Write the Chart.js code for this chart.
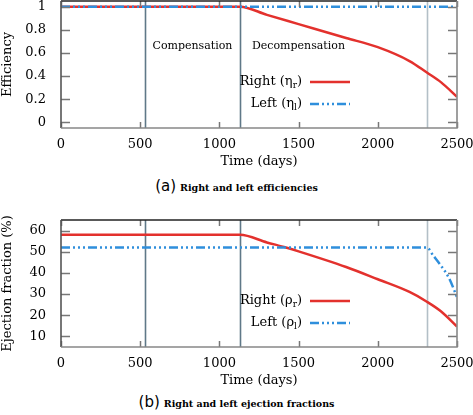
<!DOCTYPE html>
<html>
<head>
<meta charset="utf-8">
<script src="https://cdn.jsdelivr.net/npm/chart.js@4"></script>
<style>
  body { margin: 0; background: #fff; width: 473px; height: 415px; position: relative; overflow: hidden; }
  .box { position: absolute; left: 0; width: 473px; }
  .cap { position: absolute; left: 0; width: 473px; text-align: center; color: #000; white-space: nowrap; }
  .cap .lbl { font-family: "DejaVu Sans", sans-serif; font-size: 15px; }
  .cap .txt { font-family: "DejaVu Serif", serif; font-weight: bold; font-size: 9.5px; }
</style>
</head>
<body>
<div class="box" style="top:0;height:170px"><canvas id="effChart"></canvas></div>
<div class="cap" style="top:177px"><span class="lbl">(a)</span> <span class="txt">Right and left efficiencies</span></div>
<div class="box" style="top:209px;height:180px"><canvas id="efChart"></canvas></div>
<div class="cap" style="top:393px"><span class="lbl">(b)</span> <span class="txt">Right and left ejection fractions</span></div>
<script>
// phase boundaries (days)
const phaseDays = [530, 1130, 2310];
const xTicks = [0, 500, 1000, 1500, 2000, 2500];

// (a) efficiencies
const rightEffDays = [0, 1130, 1300, 1500, 1800, 2000, 2200, 2310, 2400, 2500];
const rightEff = [1, 1, 0.93, 0.85, 0.73, 0.65, 0.53, 0.43, 0.345, 0.22];
const leftEffDays = [0, 2500];
const leftEff = [1, 1];
const effTicks = [0, 0.2, 0.4, 0.6, 0.8, 1];

// (b) ejection fractions
const rightEFDays = [0, 1130, 1300, 1420, 1500, 1800, 2000, 2200, 2310, 2400, 2500];
const rightEF = [58, 58, 54.4, 52, 50.2, 42.8, 37, 31, 26.4, 21.8, 14.7];
const leftEFDays = [0, 2310, 2350, 2400, 2450, 2500];
const leftEF = [52, 52, 48.2, 43.3, 37.5, 28.5];
const efTicks = [10, 20, 30, 40, 50, 60];

const RED = '#e3312d';
const BLUE = '#2f8fdc';
const SERIF = '"DejaVu Serif", serif';

function pts(xs, ys) {
  return xs.map((x, i) => ({x: x, y: ys[i]}));
}

// frame, inward ticks, phase lines, labels and legend
const decorPlugin = {
  id: 'decor',
  beforeDatasetsDraw(chart, args, opts) {
    const ctx = chart.ctx, a = chart.chartArea;
    const xs = chart.scales.x;
    ctx.save();
    phaseDays.forEach((d, i) => {
      const px = Math.round(xs.getPixelForValue(d)) + 0.5;
      ctx.strokeStyle = i < 2 ? '#5f7888' : '#b3bfc7';
      ctx.lineWidth = 1.6;
      ctx.beginPath(); ctx.moveTo(px, a.top); ctx.lineTo(px, a.bottom); ctx.stroke();
    });
    if (opts.phaseLabels) {
      ctx.fillStyle = '#000';
      ctx.font = '11px ' + SERIF;
      ctx.textBaseline = 'middle';
      const y = a.top + 45;
      ctx.textAlign = 'center';
      ctx.fillText('Compensation', (xs.getPixelForValue(phaseDays[0]) + xs.getPixelForValue(phaseDays[1])) / 2, y);
      ctx.textAlign = 'left';
      ctx.fillText('Decompensation', xs.getPixelForValue(phaseDays[1]) + 12, y);
    }
    ctx.restore();
  },
  afterDatasetsDraw(chart, args, opts) {
    const ctx = chart.ctx, a = chart.chartArea;
    const xs = chart.scales.x, ys = chart.scales.y;
    ctx.save();
    // inward ticks
    ctx.strokeStyle = '#777';
    ctx.lineWidth = 1.5;
    ys.ticks.forEach(t => {
      const py = Math.round(ys.getPixelForValue(t.value)) + 0.5;
      ctx.beginPath();
      ctx.moveTo(a.left, py); ctx.lineTo(a.left + 9, py);
      ctx.moveTo(a.right, py); ctx.lineTo(a.right - 9, py);
      ctx.stroke();
    });
    xs.ticks.forEach(t => {
      const px = Math.round(xs.getPixelForValue(t.value)) + 0.5;
      ctx.beginPath();
      ctx.moveTo(px, a.bottom); ctx.lineTo(px, a.bottom - 6);
      ctx.moveTo(px, a.top); ctx.lineTo(px, a.top + 6);
      ctx.stroke();
    });
    // frame
    ctx.lineWidth = 1.6;
    ctx.strokeStyle = '#222';
    ctx.beginPath(); ctx.moveTo(a.left, a.top); ctx.lineTo(a.right, a.top); ctx.stroke();
    ctx.strokeStyle = '#555';
    ctx.beginPath(); ctx.moveTo(a.left, a.top); ctx.lineTo(a.left, a.bottom); ctx.stroke();
    ctx.strokeStyle = '#888';
    ctx.beginPath(); ctx.moveTo(a.left, a.bottom); ctx.lineTo(a.right, a.bottom); ctx.lineTo(a.right, a.top); ctx.stroke();
    // legend
    const rows = opts.legend || [];
    const lineEnd = a.right - 107, lineStart = lineEnd - 40, textRight = lineStart - 8;
    rows.forEach((r, i) => {
      const y = a.top + 81 + i * 22;
      ctx.fillStyle = '#000';
      ctx.textBaseline = 'middle';
      ctx.textAlign = 'left';
      const big = '13px ' + SERIF, sub = '9px ' + SERIF;
      ctx.font = big; const w1 = ctx.measureText(r.name + ' (' + r.sym).width;
      ctx.font = sub; const w2 = ctx.measureText(r.sub).width;
      ctx.font = big; const w3 = ctx.measureText(')').width;
      let x = textRight - (w1 + w2 + w3);
      ctx.font = big; ctx.fillText(r.name + ' (' + r.sym, x, y); x += w1;
      ctx.font = sub; ctx.fillText(r.sub, x, y + 4); x += w2;
      ctx.font = big; ctx.fillText(')', x, y);
      ctx.strokeStyle = r.color;
      ctx.lineWidth = 2.5;
      ctx.setLineDash(r.dash || []);
      ctx.beginPath(); ctx.moveTo(lineStart, y); ctx.lineTo(lineEnd, y); ctx.stroke();
      ctx.setLineDash([]);
    });
    ctx.restore();
  }
};

function makeChart(id, sets, yMin, yMax, yTickVals, yTitle, padTop, decor) {
  return new Chart(id, {
    type: 'scatter',
    data: { datasets: sets },
    plugins: [decorPlugin],
    options: {
      responsive: true,
      maintainAspectRatio: false,
      animation: false,
      layout: { padding: { top: padTop, right: 16, left: 0, bottom: 0 } },
      plugins: { legend: { display: false }, tooltip: { enabled: false }, decor: decor },
      scales: {
        x: {
          type: 'linear', min: 0, max: 2500,
          afterBuildTicks: s => { s.ticks = xTicks.map(v => ({value: v})); },
          afterFit: s => { s.height = 42; s.paddingLeft = 0; s.paddingRight = 0; },
          grid: { display: false },
          border: { display: false },
          ticks: { color: '#000', font: { family: SERIF, size: 13 }, padding: 1, maxRotation: 0, callback: v => String(v) },
          title: { display: true, text: 'Time (days)', color: '#000', font: { family: SERIF, size: 13 }, padding: { top: 1, bottom: 1 } }
        },
        y: {
          min: yMin, max: yMax,
          afterBuildTicks: s => { s.ticks = yTickVals.map(v => ({value: v})); },
          afterFit: s => { s.width = 61; s.paddingTop = 0; s.paddingBottom = 0; },
          grid: { display: false },
          border: { display: false },
          ticks: { color: '#000', font: { family: SERIF, size: 13 }, padding: 7, callback: v => String(v) },
          title: { display: true, text: yTitle, color: '#000', font: { family: SERIF, size: 13 }, padding: { top: 0, bottom: 2 } }
        }
      }
    }
  });
}

const dashBlue = [9, 3, 2, 3, 2, 3, 2, 3];

makeChart('effChart', [
  { data: pts(leftEffDays, leftEff), borderColor: BLUE, borderWidth: 2.5, borderDash: dashBlue, showLine: true, pointRadius: 0, order: 0 },
  { data: pts(rightEffDays, rightEff), borderColor: RED, borderWidth: 2.5, showLine: true, pointRadius: 0, cubicInterpolationMode: 'monotone', order: 1 }
], -0.05, 1.05, effTicks, 'Efficiency', 1, {
  phaseLabels: true,
  legend: [
    { name: 'Right', sym: 'η', sub: 'r', color: RED },
    { name: 'Left', sym: 'η', sub: 'l', color: BLUE, dash: dashBlue }
  ]
});

makeChart('efChart', [
  { data: pts(leftEFDays, leftEF), borderColor: BLUE, borderWidth: 2.5, borderDash: dashBlue, showLine: true, pointRadius: 0, cubicInterpolationMode: 'monotone', order: 0 },
  { data: pts(rightEFDays, rightEF), borderColor: RED, borderWidth: 2.5, showLine: true, pointRadius: 0, cubicInterpolationMode: 'monotone', order: 1 }
], 5, 65, efTicks, 'Ejection fraction (%)', 11, {
  phaseLabels: false,
  legend: [
    { name: 'Right', sym: 'ρ', sub: 'r', color: RED },
    { name: 'Left', sym: 'ρ', sub: 'l', color: BLUE, dash: dashBlue }
  ]
});
</script>
</body>
</html>
